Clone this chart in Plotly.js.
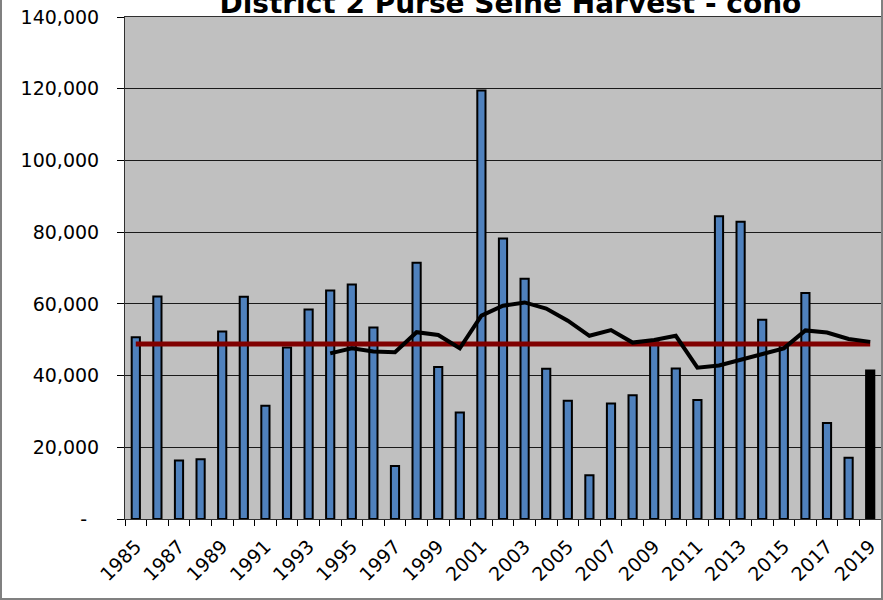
<!DOCTYPE html>
<html>
<head>
<meta charset="utf-8">
<script src="https://cdn.plot.ly/plotly-3.0.1.min.js"></script>
<style>
  html, body { margin: 0; padding: 0; background: #ffffff; }
  #wrap { position: relative; width: 883px; height: 600px; overflow: hidden; }
  #chart { position: absolute; left: 0; top: 0; width: 883px; height: 600px; }
  #frame { position: absolute; left: 0; top: 0; width: 883px; height: 600px; box-sizing: border-box;
           border-left: 2px solid #808080; border-right: 2px solid #808080; border-bottom: 2px solid #808080;
           pointer-events: none; }
</style>
</head>
<body>
<div id="wrap">
  <div id="chart"></div>
  <div id="frame"></div>
</div>
<script>
// ---- data ----
const years = [1985, 1986, 1987, 1988, 1989, 1990, 1991, 1992, 1993, 1994,
               1995, 1996, 1997, 1998, 1999, 2000, 2001, 2002, 2003, 2004,
               2005, 2006, 2007, 2008, 2009, 2010, 2011, 2012, 2013, 2014,
               2015, 2016, 2017, 2018, 2019];
const harvest = [50700, 62050, 16300, 16650, 52300, 61950, 31550, 47800, 58400, 63700,
                 65400, 53400, 14800, 71450, 42400, 29700, 119500, 78200, 67000, 41900,
                 33000, 12200, 32200, 34500, 49300, 42000, 33200, 84400, 82900, 55600,
                 48500, 63000, 26800, 17100, 41400];
const avgYears = [1985, 2019];
const avgValue = 48800;
const maYears = [1994, 1995, 1996, 1997, 1998, 1999, 2000, 2001, 2002, 2003,
                 2004, 2005, 2006, 2007, 2008, 2009, 2010, 2011, 2012, 2013,
                 2014, 2015, 2016, 2017, 2018, 2019];
const movingAvg = [46200, 47600, 46700, 46500, 52100, 51300, 47600, 56700, 59500, 60400,
                   58700, 55300, 51100, 52700, 49200, 49900, 51100, 42200, 42800, 44400,
                   46000, 47600, 52600, 52000, 50200, 49400];
const currentYear = 2019;
const yTickVals = [0, 20000, 40000, 60000, 80000, 100000, 120000, 140000];
const yTickText = ['-\u00a0\u00a0', '20,000', '40,000', '60,000', '80,000', '100,000', '120,000', '140,000'];
const titleText = 'District 2 Purse Seine Harvest - coho';

const barColors = years.map(y => (y === currentYear ? '#000000' : '#4F81BD'));

const traces = [
  {
    type: 'bar', x: years, y: harvest, width: 0.38,
    marker: { color: barColors, line: { color: '#000000', width: 2 } },
    hoverinfo: 'x+y'
  },
  {
    type: 'scatter', mode: 'lines', x: avgYears, y: [avgValue, avgValue],
    line: { color: '#800000', width: 5 }, hoverinfo: 'y'
  },
  {
    type: 'scatter', mode: 'lines', x: maYears, y: movingAvg,
    line: { color: '#000000', width: 4 }, hoverinfo: 'x+y'
  }
];

const font = 'DejaVu Sans, Arial, sans-serif';

const layout = {
  width: 883, height: 600,
  margin: { l: 125, r: 2, t: 17, b: 81, pad: 0 },
  paper_bgcolor: '#ffffff',
  plot_bgcolor: '#C0C0C0',
  showlegend: false,
  bargap: 0,
  title: {
    text: titleText,
    font: { family: font, size: 28, weight: 'bold', color: '#000000' },
    xref: 'container', x: 0.578, xanchor: 'center',
    yref: 'container', y: 0.994, yanchor: 'middle'
  },
  xaxis: {
    type: 'linear',
    range: [1984.5, 2019.5],
    tickmode: 'linear', tick0: 1985, dtick: 2,
    ticks: '', showgrid: false, zeroline: false,
    tickangle: -45,
    tickfont: { family: font, size: 19, color: '#000000' },
    ticklabelstandoff: 8,
    showline: true, linecolor: '#303030', linewidth: 1, mirror: true,
    minor: { tick0: 1984.5, dtick: 1, ticks: 'outside', ticklen: 6, tickcolor: '#000000', tickwidth: 1, showgrid: false }
  },
  yaxis: {
    range: [0, 140000],
    tickmode: 'array', tickvals: yTickVals, ticktext: yTickText,
    ticks: 'outside', ticklen: 7, tickcolor: '#000000',
    ticklabelstandoff: 14,
    tickfont: { family: font, size: 19, color: '#000000' },
    showgrid: true, gridcolor: '#1a1a1a', gridwidth: 1,
    zeroline: false,
    showline: true, linecolor: '#303030', linewidth: 1, mirror: true
  }
};

Plotly.newPlot('chart', traces, layout, { displayModeBar: false, staticPlot: true });
</script>
</body>
</html>
